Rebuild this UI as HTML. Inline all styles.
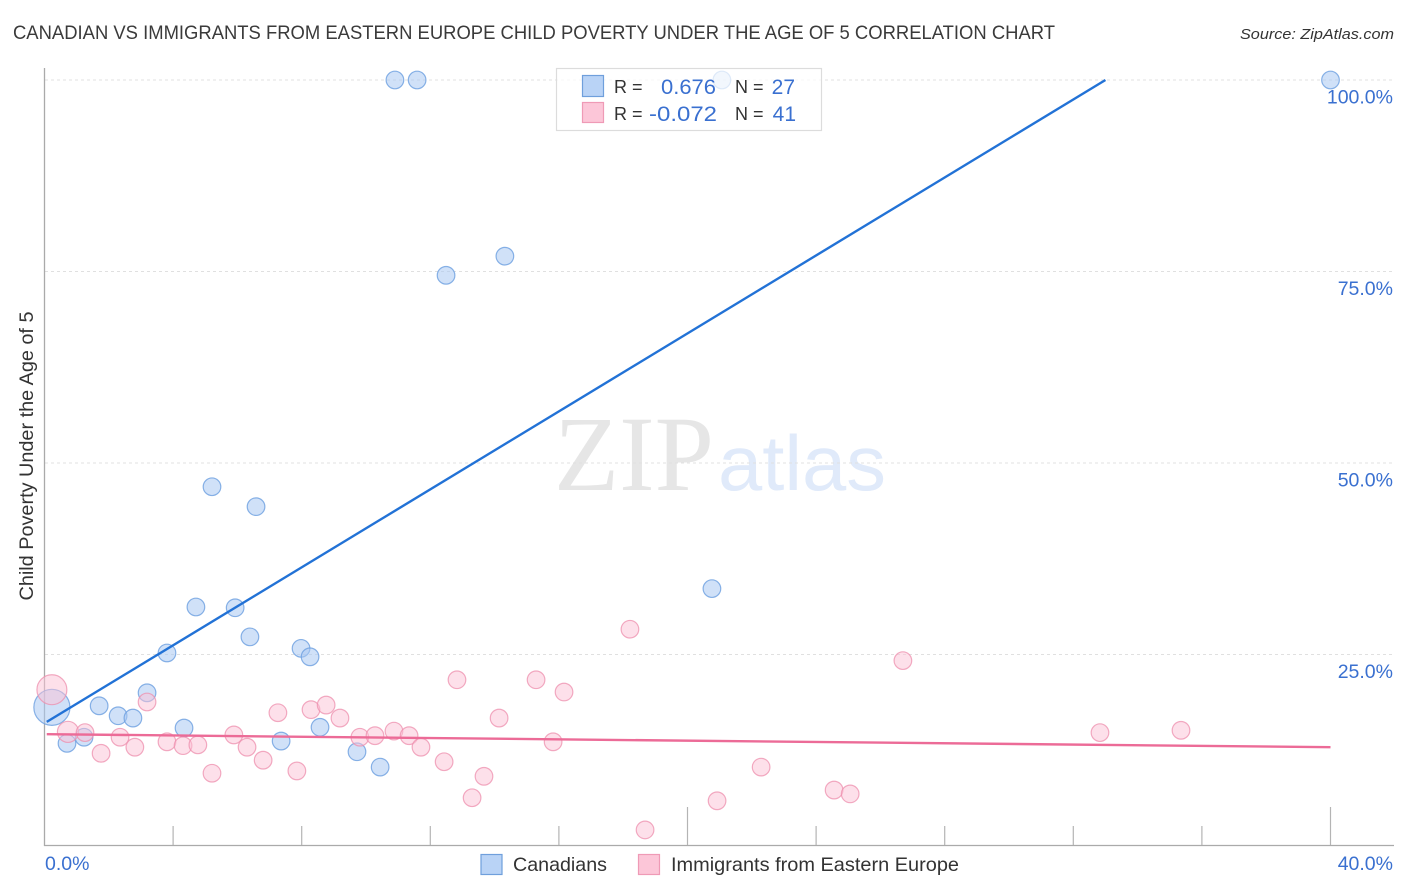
<!DOCTYPE html>
<html>
<head>
<meta charset="utf-8">
<title>Canadian vs Immigrants from Eastern Europe Child Poverty Correlation Chart</title>
<style>
html,body{margin:0;padding:0;background:#fff;}
svg{display:block;}
text{font-family:"Liberation Sans",sans-serif;}
</style>
</head>
<body>
<svg id="chart" width="1406" height="892" viewBox="0 0 1406 892">
  <rect width="1406" height="892" fill="#fff"/>
  <text x="13" y="39" font-size="19.5" fill="#3a3a3a" textLength="1042" lengthAdjust="spacingAndGlyphs">CANADIAN VS IMMIGRANTS FROM EASTERN EUROPE CHILD POVERTY UNDER THE AGE OF 5 CORRELATION CHART</text>
  <text x="1394" y="39" font-size="15" font-style="italic" fill="#333" text-anchor="end" textLength="154" lengthAdjust="spacingAndGlyphs">Source: ZipAtlas.com</text>
  <text x="33" y="456" font-size="19" fill="#333" text-anchor="middle" transform="rotate(-90 33 456)" textLength="289" lengthAdjust="spacingAndGlyphs">Child Poverty Under the Age of 5</text>

  <g>
    <text x="554" y="490" font-size="107" fill="#e6e6e6" style="font-family:'Liberation Serif',serif" textLength="160" lengthAdjust="spacingAndGlyphs">ZIP</text>
    <text x="718" y="490" font-size="78" fill="#e0eafa" textLength="168" lengthAdjust="spacingAndGlyphs">atlas</text>
  </g>

  <g id="grid"></g>
  <g id="axes"></g>
  <g id="points"></g>
  <g id="lines"></g>

  <g>
    <rect x="556.5" y="68.5" width="265" height="62" fill="#fff" fill-opacity="0.72" stroke="#dcdcdc" stroke-width="1.2"/>
    <rect x="582.5" y="75.5" width="21" height="21" fill="#b9d3f6" stroke="#6f9fdc" stroke-width="1.2"/>
    <rect x="582.5" y="102.5" width="21" height="20" fill="#fcc6d8" stroke="#ef9ab6" stroke-width="1.2"/>
    <text x="614" y="93" font-size="18" fill="#333">R =</text>
    <text x="716" y="94" font-size="21" fill="#3a70d0" text-anchor="end" textLength="55" lengthAdjust="spacingAndGlyphs">0.676</text>
    <text x="735" y="93" font-size="18" fill="#333">N =</text>
    <text x="795" y="94" font-size="21" fill="#3a70d0" text-anchor="end">27</text>
    <text x="614" y="120" font-size="18" fill="#333">R =</text>
    <text x="717" y="121" font-size="21" fill="#3a70d0" text-anchor="end" textLength="68" lengthAdjust="spacingAndGlyphs">-0.072</text>
    <text x="735" y="120" font-size="18" fill="#333">N =</text>
    <text x="796" y="121" font-size="21" fill="#3a70d0" text-anchor="end">41</text>
  </g>

  <g>
    <g>
      <rect x="481" y="854.5" width="21" height="20" fill="#b9d3f6" stroke="#6f9fdc" stroke-width="1.2"/>
      <text x="513" y="871" font-size="19.5" fill="#333" textLength="94" lengthAdjust="spacingAndGlyphs">Canadians</text>
    </g>
    <g>
      <rect x="638.5" y="854.5" width="21" height="20" fill="#fcc6d8" stroke="#ef9ab6" stroke-width="1.2"/>
      <text x="671" y="871" font-size="19.5" fill="#333" textLength="288" lengthAdjust="spacingAndGlyphs">Immigrants from Eastern Europe</text>
    </g>
  </g>
</svg>
<script>
// Chart data (percent values)
const xTicks = [0, 4, 8, 12, 16, 20, 24, 28, 32, 36, 40];
const xMajorTicks = [20, 40];
const xTickLabels = ["0.0%", "40.0%"];
const yTicks = [100, 75, 50, 25];
const yTickLabels = ["100.0%", "75.0%", "50.0%", "25.0%"];

const canadianX = [10.90, 11.59, 21.07, 40.0, 12.49, 14.32, 5.21, 6.58, 20.76, 4.71, 5.93, 6.39, 3.81, 7.98, 8.26, 3.19, 1.70, 2.29, 2.75, 0.23, 0.70, 1.23, 4.34, 7.36, 8.57, 9.72, 10.44];
const canadianY = [100, 100, 100, 100, 74.5, 77.0, 46.9, 44.3, 33.6, 31.2, 31.1, 27.3, 25.2, 25.8, 24.7, 20.0, 18.3, 17.0, 16.7, 18.1, 13.4, 14.2, 15.4, 13.7, 15.5, 12.3, 10.3];
const canadianWeight = [1, 1, 1, 1, 1, 1, 1, 1, 1, 1, 1, 1, 1, 1, 1, 1, 1, 1, 1, 2.05, 1, 1, 1, 1, 1, 1, 1];

const immigrantX = [0.23, 0.73, 1.26, 1.76, 2.35, 2.81, 3.19, 3.81, 4.31, 4.77, 5.21, 5.89, 6.30, 6.80, 7.26, 7.85, 8.29, 8.76, 9.19, 9.81, 10.28, 10.87, 11.34, 11.71, 12.43, 13.30, 13.67, 12.83, 14.14, 15.29, 15.82, 16.16, 18.21, 18.68, 20.92, 22.29, 24.56, 25.06, 26.70, 32.83, 35.35];
const immigrantY = [20.4, 14.9, 14.8, 12.1, 14.2, 12.9, 18.8, 13.6, 13.1, 13.2, 9.5, 14.5, 12.9, 11.2, 17.4, 9.8, 17.8, 18.4, 16.7, 14.2, 14.4, 15.0, 14.4, 12.9, 11.0, 6.3, 9.1, 21.7, 16.7, 21.7, 13.6, 20.1, 28.3, 2.1, 5.9, 10.3, 7.3, 6.8, 24.2, 14.8, 15.1];
const immigrantWeight = [1.7, 1.2, 1, 1, 1, 1, 1, 1, 1, 1, 1, 1, 1, 1, 1, 1, 1, 1, 1, 1, 1, 1, 1, 1, 1, 1, 1, 1, 1, 1, 1, 1, 1, 1, 1, 1, 1, 1, 1, 1, 1];

const canadianTrendX = [0.07, 33.0];
const canadianTrendY = [16.2, 100];
const immigrantTrendX = [0.07, 40];
const immigrantTrendY = [14.6, 12.9];

// Axis functions
const NS = "http://www.w3.org/2000/svg";
function xScale(v) { return 44.5 + v * 32.15; }
function yScale(v) { return 846 - v * 7.66; }
function rScale(w) { return 8.8 * w; }
function make(tag, attrs, parent) {
  const el = document.createElementNS(NS, tag);
  Object.keys(attrs).forEach(function (k) { el.setAttribute(k, attrs[k]); });
  parent.appendChild(el);
  return el;
}

const gridG = document.getElementById("grid");
const axesG = document.getElementById("axes");
const pointsG = document.getElementById("points");
const linesG = document.getElementById("lines");

yTicks.forEach(function (t, i) {
  const g = make("line", { x1: 45, x2: 1394, y1: yScale(t), y2: yScale(t), stroke: "#e0e0e0", "stroke-width": 1, "stroke-dasharray": "3 3" }, gridG);
  
  
  const lab = make("text", { x: 1393, y: yScale(t) + 23.5, "font-size": 19.5, fill: "#3a70d0", "text-anchor": "end" }, axesG);
  lab.textContent = yTickLabels[i];
  
  
});

const yAxisLine = make("line", { x1: 44.5, x2: 44.5, y1: 68, y2: 846, stroke: "#aaa", "stroke-width": 1.3 }, axesG);


const xAxisLine = make("line", { x1: 44, x2: 1394, y1: 845.5, y2: 845.5, stroke: "#aaa", "stroke-width": 1.3 }, axesG);



xTicks.slice(1).forEach(function (t) {
  const major = xMajorTicks.indexOf(t) >= 0;
  const tick = make("line", { x1: xScale(t), x2: xScale(t), y1: major ? 807 : 826, y2: 845, stroke: "#b4b4b4", "stroke-width": 1.2 }, axesG);
  
  
});

const xLabelLeft = make("text", { x: 45, y: 870, "font-size": 19.5, fill: "#3a70d0" }, axesG);
xLabelLeft.textContent = xTickLabels[0];


const xLabelRight = make("text", { x: 1393, y: 870, "font-size": 19.5, fill: "#3a70d0", "text-anchor": "end" }, axesG);
xLabelRight.textContent = xTickLabels[1];



canadianX.forEach(function (v, i) {
  const c = make("circle", { cx: xScale(v), cy: yScale(canadianY[i]), r: rScale(canadianWeight[i]), fill: "#a9c9f3", "fill-opacity": 0.55, stroke: "#6b9fe0", "stroke-opacity": 0.8, "stroke-width": 1.2 }, pointsG);
  
  
});
immigrantX.forEach(function (v, i) {
  const c = make("circle", { cx: xScale(v), cy: yScale(immigrantY[i]), r: rScale(immigrantWeight[i]), fill: "#fbc2d5", "fill-opacity": 0.5, stroke: "#ee8fae", "stroke-opacity": 0.75, "stroke-width": 1.2 }, pointsG);
  
  
});

const canadianLine = make("line", { x1: xScale(canadianTrendX[0]), y1: yScale(canadianTrendY[0]), x2: xScale(canadianTrendX[1]), y2: yScale(canadianTrendY[1]), stroke: "#2272d6", "stroke-width": 2.4 }, linesG);


const immigrantLine = make("line", { x1: xScale(immigrantTrendX[0]), y1: yScale(immigrantTrendY[0]), x2: xScale(immigrantTrendX[1]), y2: yScale(immigrantTrendY[1]), stroke: "#ec6b97", "stroke-width": 2.4 }, linesG);


</script>
</body>
</html>
